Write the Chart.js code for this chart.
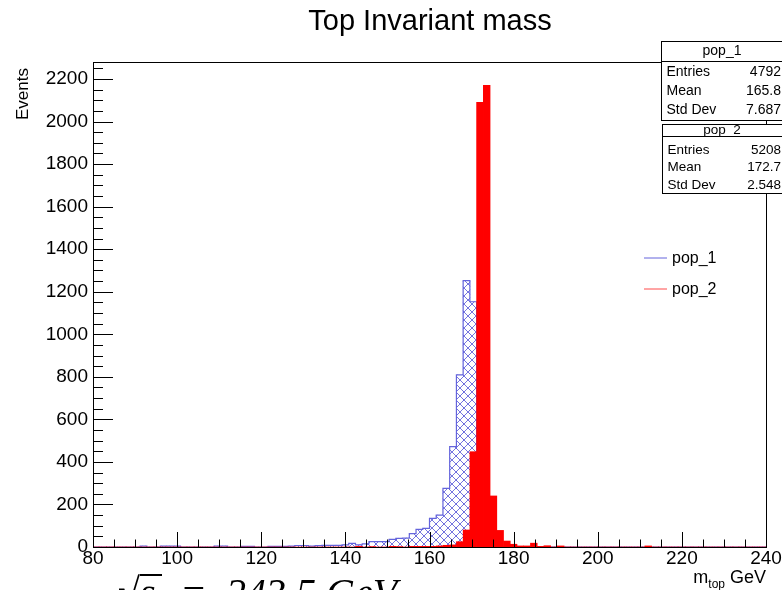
<!DOCTYPE html>
<html>
<head>
<meta charset="utf-8">
<title>Top Invariant mass</title>
<script src="https://cdn.jsdelivr.net/npm/chart.js@4.4.0/dist/chart.umd.min.js"></script>
<style>
  html, body { margin: 0; padding: 0; background: #fff; }
  #wrap { width: 782px; height: 590px; }
</style>
</head>
<body>
<div id="wrap"><canvas id="grafica" width="782" height="590"></canvas></div>
<script>
// --- DATOS ---
const binInicio = 80;
const binAncho = 1.6;   // 100 bins entre 80 y 240 GeV

// cuentas por bin (pop_1, azul rayado)
const pop1Cuentas = [
    0, 0, 0, 0, 0, 0, 0, 4, 0, 0,
    4, 4, 4, 0, 0, 0, 0, 0, 4, 4,
    0, 0, 3, 3, 0, 0, 3, 3, 3, 4,
    7, 7, 4, 6, 8, 8, 8, 10, 17, 10,
    15, 25, 25, 25, 36, 41, 42, 63, 83, 88,
    135, 150, 276, 472, 809, 1252, 1153, 25, 0, 0,
    0, 0, 0, 0, 0, 0, 0, 0, 0, 0,
    0, 0, 0, 0, 0, 0, 0, 0, 0, 0,
    0, 0, 0, 0, 0, 0, 0, 0, 0, 0,
    0, 0, 0, 0, 0, 0, 0, 0, 0, 0
];

// cuentas por bin (pop_2, rojo relleno)
const pop2Cuentas = [
    0, 0, 0, 0, 0, 0, 0, 0, 0, 0,
    0, 0, 0, 0, 0, 0, 0, 0, 0, 0,
    0, 0, 0, 0, 0, 0, 0, 0, 0, 0,
    0, 0, 0, 0, 0, 0, 0, 0, 0, 3,
    0, 2, 0, 0, 3, 2, 0, 3, 3, 3,
    3, 5, 8, 10, 25, 80, 448, 2090, 2170, 240,
    78, 28, 13, 5, 5, 18, 3, 6, 0, 5,
    0, 0, 0, 0, 0, 0, 0, 0, 0, 0,
    0, 0, 5, 0, 0, 0, 0, 0, 0, 0,
    0, 0, 0, 0, 0, 0, 0, 0, 0, 0
];

const ticksX = [80, 100, 120, 140, 160, 180, 200, 220, 240];
const ticksY = [0, 200, 400, 600, 800, 1000, 1200, 1400, 1600, 1800, 2000, 2200];
const nombresSeries = ['pop_1', 'pop_2'];
const nombresStats = ['Entries', 'Mean', 'Std Dev'];
const statsPop1 = ['4792', '165.8', '7.687'];
const statsPop2 = ['5208', '172.7', '2.548'];

const AZUL = '#6464dc';
const ROJO = '#ff0000';
const FUENTE = '"Liberation Sans", Arial, sans-serif';

// ================= 1. ARMAR LOS DATASETS =================
function centrosBins(cuentas) {
    return cuentas.map((v, i) => ({ x: binInicio + binAncho * (i + 0.5), y: v }));
}

function contornoEscalon(cuentas) {
    const puntos = cuentas.map((v, i) => ({ x: binInicio + binAncho * i, y: v }));
    puntos.push({ x: binInicio + binAncho * cuentas.length, y: 0 });
    return puntos;
}

function crearTrama(ctx, color) {
    const c = document.createElement('canvas');
    c.width = 8; c.height = 8;
    const g = c.getContext('2d');
    g.strokeStyle = color;
    g.lineWidth = 0.9;
    g.beginPath();
    g.moveTo(-1, -1); g.lineTo(9, 9);
    g.moveTo(-1, 9); g.lineTo(9, -1);
    g.stroke();
    return ctx.createPattern(c, 'repeat');
}

// ================= 2. DIBUJO ESTILO ROOT (marco, ticks, textos) =================
const pluginRoot = {
    id: 'estiloRoot',
    beforeDatasetsDraw(chart) {
        const { ctx, chartArea: a } = chart;
        ctx.save();
        ctx.strokeStyle = '#000';
        ctx.lineWidth = 1;
        ctx.strokeRect(a.left + 0.5, a.top + 0.5, a.right - a.left, a.bottom - a.top);
        ctx.restore();
    },
    afterDatasetsDraw(chart) {
        const { ctx, chartArea: a, scales } = chart;
        ctx.save();
        ctx.strokeStyle = '#000';
        ctx.lineWidth = 1;
        ctx.beginPath();
        // eje Y: mayores cada 200, menores cada 50
        const pasoY = ticksY[1] - ticksY[0];
        for (let v = 0; v <= scales.y.max; v += pasoY / 4) {
            const y = Math.round(scales.y.getPixelForValue(v)) + 0.5;
            const largo = (v % pasoY === 0) ? 20 : 10;
            ctx.moveTo(a.left, y);
            ctx.lineTo(a.left + largo, y);
        }
        // eje X: mayores cada 20, menores cada 5
        const pasoX = ticksX[1] - ticksX[0];
        for (let v = ticksX[0]; v <= ticksX[ticksX.length - 1]; v += pasoX / 4) {
            const x = Math.round(scales.x.getPixelForValue(v)) + 0.5;
            const largo = ((v - ticksX[0]) % pasoX === 0) ? 15 : 7.5;
            ctx.moveTo(x, a.bottom);
            ctx.lineTo(x, a.bottom - largo);
        }
        ctx.stroke();
        ctx.restore();
    },
    afterDraw(chart) {
        const ctx = chart.ctx;
        ctx.save();
        ctx.fillStyle = '#000';

        // titulo
        ctx.font = '29px ' + FUENTE;
        ctx.textAlign = 'center';
        ctx.textBaseline = 'alphabetic';
        ctx.fillText('Top Invariant mass', 430, 30);

        // titulo eje Y
        ctx.save();
        ctx.translate(28, 68);
        ctx.rotate(-Math.PI / 2);
        ctx.font = '17px ' + FUENTE;
        ctx.textAlign = 'right';
        ctx.fillText('Events', 0, 0);
        ctx.restore();

        // titulo eje X: m_top GeV
        ctx.textAlign = 'left';
        ctx.font = '18px ' + FUENTE;
        const wM = ctx.measureText('m').width;
        const wGev = ctx.measureText(' GeV').width;
        ctx.font = '12px ' + FUENTE;
        const wTop = ctx.measureText('top').width;
        let x0 = 766 - (wM + wTop + wGev);
        ctx.font = '18px ' + FUENTE;
        ctx.fillText('m', x0, 583);
        ctx.font = '12px ' + FUENTE;
        ctx.fillText('top', x0 + wM, 588);
        ctx.font = '18px ' + FUENTE;
        ctx.fillText(' GeV', x0 + wM + wTop, 583);

        // leyenda
        const colores = [AZUL, '#ff4a4a'];
        const yLeyenda = [258, 289];
        ctx.font = '16px ' + FUENTE;
        ctx.textBaseline = 'middle';
        nombresSeries.forEach((nombre, i) => {
            ctx.strokeStyle = colores[i];
            ctx.lineWidth = 1;
            ctx.beginPath();
            ctx.moveTo(644, yLeyenda[i]);
            ctx.lineTo(667, yLeyenda[i]);
            ctx.stroke();
            ctx.fillText(nombre, 672, yLeyenda[i] + 1);
        });

        // cajas de estadisticas
        dibujarCaja(ctx, nombresSeries[0], statsPop1, 661.5, 41.5, 120.5, 61.5, [51, 72, 91, 110], 14);
        dibujarCaja(ctx, nombresSeries[1], statsPop2, 662.5, 124.5, 193.5, 136.5, [130, 150, 167, 185], 13.5);

        // texto cortado al pie
        ctx.textBaseline = 'alphabetic';
        ctx.font = 'italic 40px "Liberation Serif", serif';
        ctx.fillText('\u221A', 118, 606);
        ctx.lineWidth = 2;
        ctx.strokeStyle = '#000';
        ctx.beginPath();
        ctx.moveTo(140, 575);
        ctx.lineTo(162, 575);
        ctx.stroke();
        ctx.fillText('s', 140, 606);
        ctx.fillText('=', 180, 606);
        ctx.fillText('243.5 GeV', 226, 606);
        ctx.restore();
    }
};

function dibujarCaja(ctx, titulo, valores, x, yTop, yBottom, ySep, filas, tam) {
    ctx.save();
    ctx.fillStyle = '#fff';
    ctx.fillRect(x, yTop, 800 - x, yBottom - yTop);
    ctx.strokeStyle = '#000';
    ctx.lineWidth = 1;
    ctx.strokeRect(x, yTop, 800 - x, yBottom - yTop);
    ctx.beginPath();
    ctx.moveTo(x, ySep);
    ctx.lineTo(800, ySep);
    ctx.stroke();
    ctx.fillStyle = '#000';
    ctx.font = tam + 'px ' + FUENTE;
    ctx.textBaseline = 'middle';
    ctx.textAlign = 'center';
    ctx.fillText(titulo, 722, filas[0]);
    nombresStats.forEach((n, i) => {
        ctx.textAlign = 'left';
        ctx.fillText(n, x + 5, filas[i + 1]);
        ctx.textAlign = 'right';
        ctx.fillText(valores[i], 781, filas[i + 1]);
    });
    ctx.restore();
}

// ================= 3. GRAFICA (Chart.js) =================
function crearGrafica() {
    const ctx = document.getElementById('grafica').getContext('2d');
    const trama = crearTrama(ctx, 'rgba(85, 85, 215, 0.9)');

    new Chart(ctx, {
        type: 'bar',
        data: {
            datasets: [
                {
                    type: 'bar',
                    label: nombresSeries[1],
                    data: centrosBins(pop2Cuentas),
                    backgroundColor: ROJO,
                    borderWidth: 0,
                    order: 0
                },
                {
                    type: 'line',
                    label: nombresSeries[0],
                    data: contornoEscalon(pop1Cuentas),
                    borderColor: AZUL,
                    borderWidth: 1.2,
                    stepped: true,
                    pointRadius: 0,
                    fill: false,
                    order: 1
                },
                {
                    type: 'bar',
                    label: nombresSeries[0] + ' (relleno)',
                    data: centrosBins(pop1Cuentas),
                    backgroundColor: trama,
                    borderWidth: 0,
                    order: 2
                }
            ]
        },
        options: {
            responsive: false,
            animation: false,
            devicePixelRatio: 1,
            layout: { padding: { top: 62, right: 16, left: 0, bottom: 0 } },
            datasets: {
                bar: { barPercentage: 1, categoryPercentage: 1, grouped: false }
            },
            plugins: {
                legend: { display: false },
                tooltip: { enabled: false },
                title: { display: false }
            },
            scales: {
                x: {
                    type: 'linear',
                    min: ticksX[0],
                    max: ticksX[ticksX.length - 1],
                    offset: false,
                    grid: { display: false, drawTicks: false },
                    border: { display: false },
                    afterFit: (s) => { s.height = 43; },
                    ticks: {
                        stepSize: ticksX[1] - ticksX[0],
                        autoSkip: false,
                        maxRotation: 0,
                        padding: 0,
                        color: '#000',
                        font: { family: FUENTE, size: 19 },
                        callback: (v) => String(v)
                    }
                },
                y: {
                    min: 0,
                    max: 2280,
                    grid: { display: false, drawTicks: false },
                    border: { display: false },
                    afterFit: (s) => { s.width = 93; },
                    ticks: {
                        stepSize: ticksY[1] - ticksY[0],
                        includeBounds: false,
                        padding: 5,
                        color: '#000',
                        font: { family: FUENTE, size: 19 },
                        callback: (v) => String(v)
                    }
                }
            }
        },
        plugins: [pluginRoot]
    });
}

crearGrafica();
</script>
</body>
</html>
